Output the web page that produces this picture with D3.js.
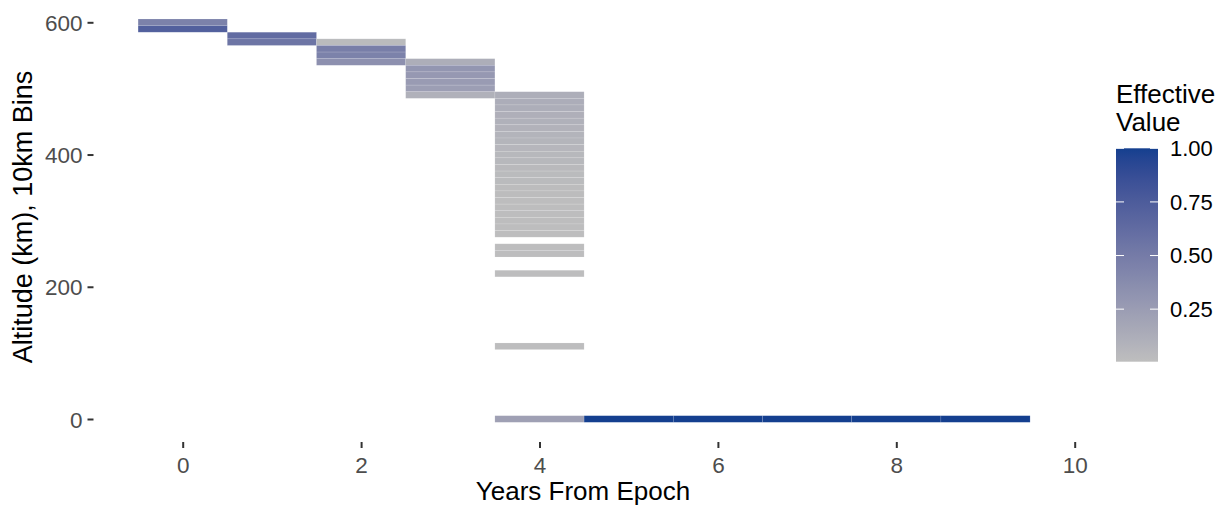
<!DOCTYPE html>
<html><head><meta charset="utf-8">
<script src="https://cdn.jsdelivr.net/npm/d3@7"></script>
<style>body{margin:0;background:#fff}svg{display:block}text{font-family:"Liberation Sans",Arial,sans-serif}</style>
</head><body><svg id="c" width="1226" height="506"></svg>
<script>
// Data: one tile per (year, altitude bin)
const years     = [0,0, 1,1, 2,2,2,2, 3,3,3,3,3,3,
  4,4,4,4,4,4,4,4,4,4,4,4,4,4,4,4,4,4,4,4,4,4, 4,4, 4, 4, 4, 5,6,7,8,9];
const altitudes = [600,590, 580,570, 570,560,550,540, 540,530,520,510,500,490,
  490,480,470,460,450,440,430,420,410,400,390,380,370,360,350,340,330,320,310,300,290,280, 260,250, 220, 110, 0, 0,0,0,0,0];
const values    = [0.45,0.72, 0.62,0.55, 0.03,0.48,0.45,0.34, 0.12,0.3,0.28,0.26,0.24,0.1,
  0.12,0.13,0.12,0.11,0.1,0.09,0.08,0.07,0.06,0.05,0.05,0.04,0.03,0.03,0.02,0.02,0.01,0.01,0.01,0.01,0.01,0.01, 0.01,0.01, 0.01, 0.01, 0.22, 1,1,1,1,1];
const xTicks = [0,2,4,6,8,10];
const yTicks = [0,200,400,600];
const legendTicks = [0.25,0.5,0.75,1.0];
const valueRange = [0.005, 1];
const binWidth = 10;

const svg = d3.select("#c");
const x = d3.scaleLinear().domain([0,10]).range([182.7,1074.7]);
const y = d3.scaleLinear().domain([0,600]).range([419,22.3]);
const color = d3.scaleLinear().domain(valueRange).range(["#bebebe","#143f8f"]).interpolate(d3.interpolateLab);

const tiles = years.map((yr,i)=>({yr, alt:altitudes[i], v:values[i]}));
svg.append("g").selectAll("rect").data(tiles).join("rect")
  .attr("x", d=>x(d.yr-0.5)).attr("width", d=>x(d.yr+0.5)-x(d.yr-0.5))
  .attr("y", d=>y(d.alt+binWidth/2)).attr("height", d=>y(d.alt-binWidth/2)-y(d.alt+binWidth/2))
  .attr("fill", d=>color(d.v)).attr("stroke","#ffffff").attr("stroke-opacity",0.2).attr("stroke-width",0.6);

// axes
const xa = svg.append("g").attr("transform","translate(0,442)")
  .call(d3.axisBottom(x).tickValues(xTicks).tickSize(6).tickPadding(4).tickFormat(d3.format("d")));
const ya = svg.append("g").attr("transform","translate(93.5,0)")
  .call(d3.axisLeft(y).tickValues(yTicks).tickSize(6).tickPadding(5).tickFormat(d3.format("d")));
[xa,ya].forEach(a=>{
  a.select(".domain").remove();
  a.selectAll(".tick line").attr("stroke","#333333").attr("stroke-width",2);
  a.selectAll(".tick text").attr("fill","#4d4d4d").style("font-size","22.5px").attr("font-family","Liberation Sans, Arial, sans-serif");
});
xa.selectAll(".tick text").attr("dy","0.95em");
ya.selectAll(".tick text").attr("dy","0.36em");

svg.append("text").attr("x",583).attr("y",500).attr("text-anchor","middle")
  .style("font-size","26px").attr("fill","#000").text("Years From Epoch");
svg.append("text").attr("transform","translate(32,217) rotate(-90)").attr("text-anchor","middle")
  .style("font-size","27px").attr("fill","#000").text("Altitude (km), 10km Bins");

// legend
const lx = 1116, lw = 42;
const ly = d3.scaleLinear().domain(valueRange).range([361.7,148.3]);
const grad = svg.append("defs").append("linearGradient").attr("id","lg")
  .attr("x1",0).attr("y1",1).attr("x2",0).attr("y2",0);
d3.range(0,1.0001,0.05).forEach(t=>{
  grad.append("stop").attr("offset",t).attr("stop-color",color(valueRange[0]+t*(valueRange[1]-valueRange[0])));
});
svg.append("rect").attr("x",lx).attr("y",ly(1)).attr("width",lw).attr("height",ly(valueRange[0])-ly(1)).attr("fill","url(#lg)");
const lg = svg.append("g");
legendTicks.forEach(t=>{
  lg.append("line").attr("x1",lx).attr("x2",lx+8).attr("y1",ly(t)).attr("y2",ly(t)).attr("stroke","#fff").attr("stroke-width",1);
  lg.append("line").attr("x1",lx+lw-8).attr("x2",lx+lw).attr("y1",ly(t)).attr("y2",ly(t)).attr("stroke","#fff").attr("stroke-width",1);
  lg.append("text").attr("x",1170).attr("y",ly(t)).attr("dy","0.36em").style("font-size","22px").attr("fill","#000").text(d3.format(".2f")(t));
});
svg.append("text").attr("x",1116).attr("y",103).style("font-size","26px").attr("fill","#000").text("Effective");
svg.append("text").attr("x",1116).attr("y",130.5).style("font-size","26px").attr("fill","#000").text("Value");
</script></body></html>
